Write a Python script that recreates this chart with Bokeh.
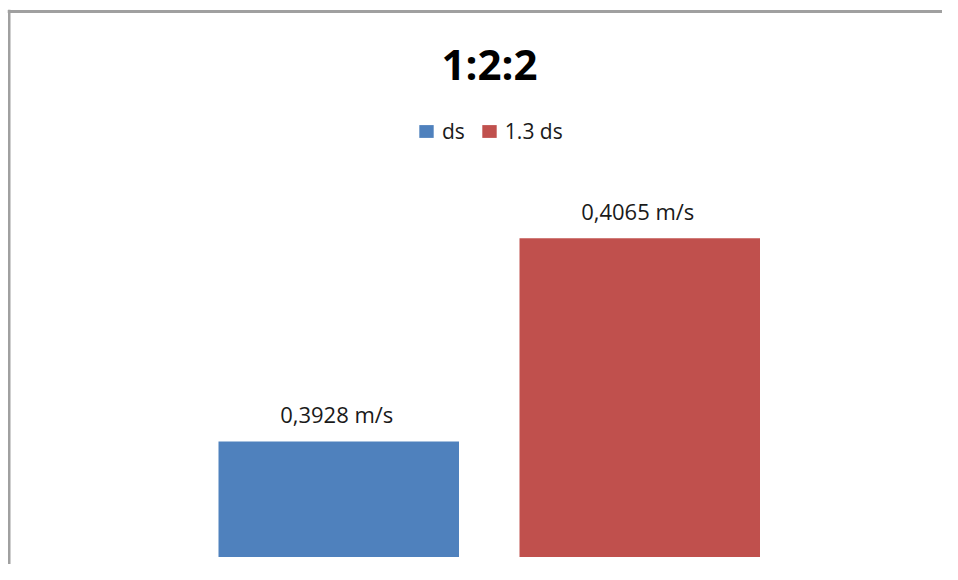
from bokeh.plotting import figure
from bokeh.models import Range1d, ColumnDataSource, LabelSet, Label, Legend, LegendItem, Span
from bokeh.core.properties import value
from bokeh.embed import file_html
from bokeh.resources import INLINE

# ---- data ----
title_text = "1:2:2"
series = ["ds", "1.3 ds"]
speeds = [0.3928, 0.4065]          # m/s
colors = ["#4F81BD", "#C0504D"]
axis_min = 0.385
axis_max = 0.41

# ---- layout (canvas pixels) ----
W, H = 942, 564
BL, BT = 7, 9                       # frame offset (chart-area border drawn just inside)
frame_top, frame_bottom = BT, H
frame_left, frame_right = BL, W
px_axis_min = 556.5
px_axis_max = 186.0
k = (px_axis_min - px_axis_max) / (axis_max - axis_min)
y_start = axis_min - (frame_bottom - px_axis_min) / k
y_end = axis_max + (px_axis_max - frame_top) / k

first_center, step = 338.25, 301.0
x_start = -(first_center - frame_left) / step
x_end = (frame_right - first_center) / step
bar_w = 240.5 / step

idx = list(range(len(series)))
labels = [f"{v:.4f}".replace(".", ",") + " m/s" for v in speeds]
src = ColumnDataSource(dict(x=idx, top=speeds, color=colors, label=labels, name=series))

p = figure(width=W, height=H, output_backend="svg", toolbar_location=None,
           x_range=Range1d(x_start, x_end), y_range=Range1d(y_start, y_end),
           x_axis_location=None, y_axis_location=None,
           min_border_left=BL, min_border_top=BT, min_border_right=0, min_border_bottom=0)
p.grid.visible = False
p.outline_line_color = None
p.background_fill_color = "white"
p.border_fill_color = "white"

r = p.vbar(x="x", top="top", bottom=axis_min, width=bar_w, fill_color="color",
           line_color=None, source=src)

font = "Open Sans"
p.add_layout(LabelSet(x="x", y="top", text="label", source=src, y_offset=18, x_offset=-2,
                      text_align="center", text_baseline="alphabetic",
                      text_font=value(font), text_font_size=value("22px"),
                      text_color=value("#1a1a1a")))

p.add_layout(Label(x=489 - frame_left, y=frame_bottom - 63,
                   x_units="screen", y_units="screen", text=title_text,
                   text_align="center", text_baseline="middle",
                   text_font=font, text_font_style="bold",
                   text_font_size="42px", text_color="#000000"))

legend = Legend(items=[LegendItem(label=series[i], renderers=[r], index=i) for i in idx],
                orientation="horizontal",
                location=(417 - frame_left, frame_bottom - 144.5),
                padding=0, margin=0, spacing=15, label_standoff=7,
                glyph_width=18, glyph_height=16, label_height=20,
                border_line_color=None, background_fill_alpha=0,
                label_text_font=font, label_text_font_size="21px",
                label_text_color="#1a1a1a")
p.add_layout(legend)

border_col = "#a0a0a0"
p.add_layout(Span(location=x_start + 1.75 / step, dimension="height",
                  line_color=border_col, line_width=2.5))
p.add_layout(Span(location=y_end - 2.0 / k, dimension="width",
                  line_color=border_col, line_width=3))

open("out.html", "w").write(file_html(p, INLINE))
